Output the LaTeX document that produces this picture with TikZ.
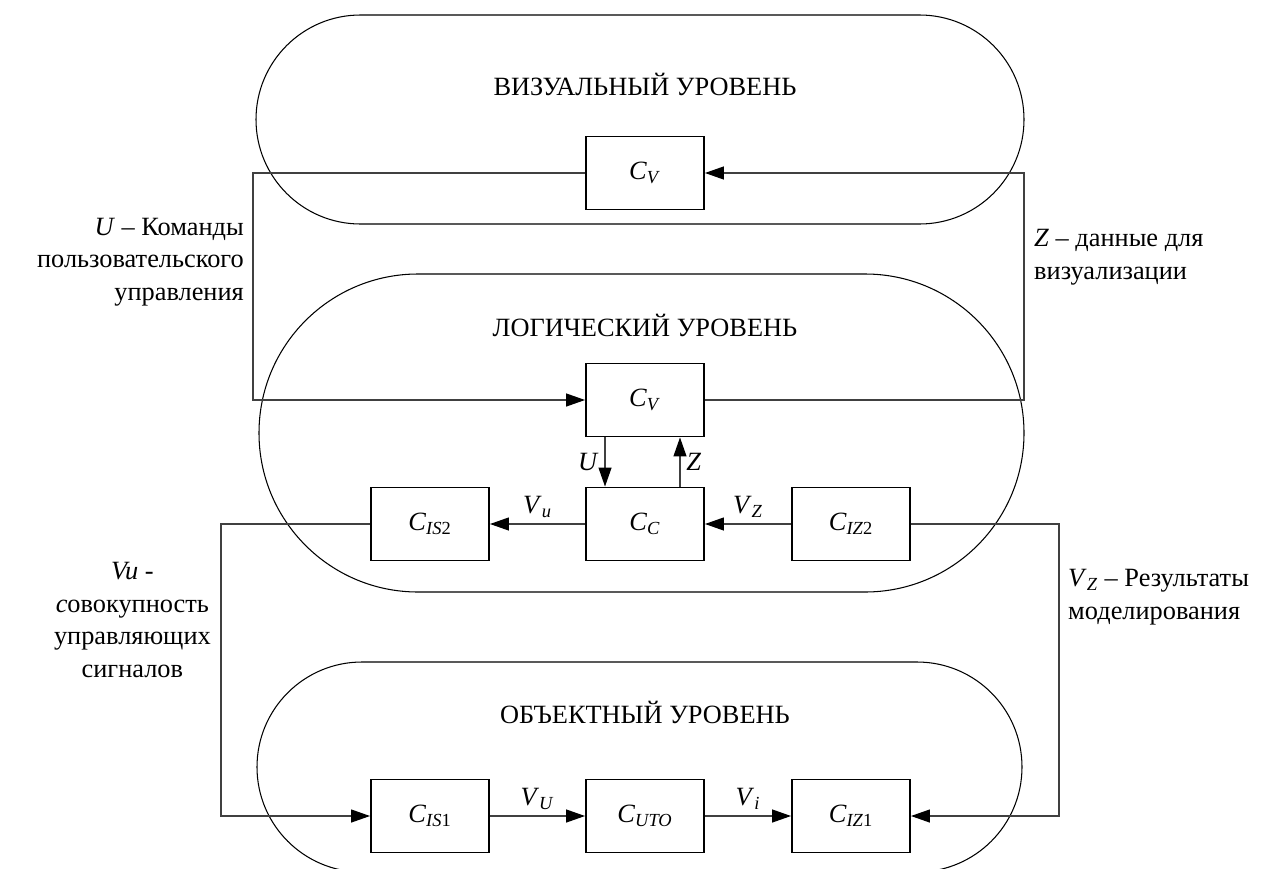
\documentclass[tikz,border=0pt]{standalone}
\usepackage{fontspec}
\setmainfont{Liberation Serif}
\usetikzlibrary{arrows.meta}

\newcommand{\csub}[2]{\textit{#1}\textsubscript{#2}}

\begin{document}
\begin{tikzpicture}[x=0.02cm, y=-0.02cm, font=\fontsize{15}{18.5}\selectfont,
    block/.style ={rectangle, draw, line width=1.1pt, fill=white, minimum width=2.36cm, minimum height=1.46cm, inner sep=0pt},
    level/.style ={draw, line width=0.6pt},
    link/.style ={draw=black!75, line width=0.7pt, -{Triangle[length=0.38cm,width=0.26cm,color=black]}}]
   \useasboundingbox (0,0) rectangle (1275,869);
   % levels
   \draw[level, rounded corners=2.09cm] (256,15) rectangle (1024,224);
   \draw[level, rounded corners=3.18cm] (259,274) rectangle (1024,592);
   \draw[level, rounded corners=2.1cm] (257,662) rectangle (1022,872);
   \node (visTitle) at (645,84)  {ВИЗУАЛЬНЫЙ УРОВЕНЬ};
   \node (logTitle) at (645,325) {ЛОГИЧЕСКИЙ УРОВЕНЬ};
   \node (objTitle) at (645,712) {ОБЪЕКТНЫЙ УРОВЕНЬ};
   % blocks
   \node[block] (cvTop) at (645,173) {\csub{C}{\textit{V}}};
   \node[block] (cvLog) at (645,400) {\csub{C}{\textit{V}}};
   \node[block] (cc)    at (645,524) {\csub{C}{\textit{C}}};
   \node[block] (cis2)  at (430,524) {\csub{C}{\textit{IS}2}};
   \node[block] (ciz2)  at (851,524) {\csub{C}{\textit{IZ}2}};
   \node[block] (cis1)  at (430,816) {\csub{C}{\textit{IS}1}};
   \node[block] (cuto)  at (645,816) {\csub{C}{\textit{UTO}}};
   \node[block] (ciz1)  at (851,816) {\csub{C}{\textit{IZ}1}};
   % corners
   \coordinate (uCorner)  at (253,173);
   \coordinate (zCorner)  at (1024,400);
   \coordinate (vuCorner) at (221,524);
   \coordinate (vzCorner) at (1059,524);
   % links
   \draw[link] (cvTop.west) -- (uCorner) |- (cvLog.west);
   \draw[link] (cvLog.east) -- (zCorner) |- (cvTop.east);
   \draw[link] ([xshift=-0.8cm]cvLog.south) -- node[left] {\textit{U}} ([xshift=-0.8cm]cc.north);
   \draw[link] ([xshift=0.7cm]cc.north) -- node[right] {\textit{Z}} ([xshift=0.7cm]cvLog.south);
   \draw[link] (cc) -- node[above] {\csub{V}{\textit{u}}} (cis2);
   \draw[link] (ciz2) -- node[above] {\csub{V}{\textit{Z}}} (cc);
   \draw[link] (cis2.west) -- (vuCorner) |- (cis1.west);
   \draw[link] (ciz2.east) -- (vzCorner) |- (ciz1.east);
   \draw[link] (cis1) -- node[above] {\csub{V}{\textit{U}}} (cuto);
   \draw[link] (cuto) -- node[above] {\csub{V}{\textit{i}}} (ciz1);
   % side texts
   \node[anchor=east, align=right] (uText) at (250,262) {\textit{U} – Команды\\пользовательского\\управления};
   \node[anchor=west, align=left] (zText) at (1028,257) {\textit{Z} – данные для\\визуализации};
   \node[anchor=east, align=center] (vuText) at (217,620) {\textit{Vu} -\\\textit{c}овокупность\\управляющих\\сигналов};
   \node[anchor=west, align=left] (vzText) at (1062,597) {\csub{V}{\textit{Z}} – Результаты\\моделирования};
\end{tikzpicture}
\end{document}
